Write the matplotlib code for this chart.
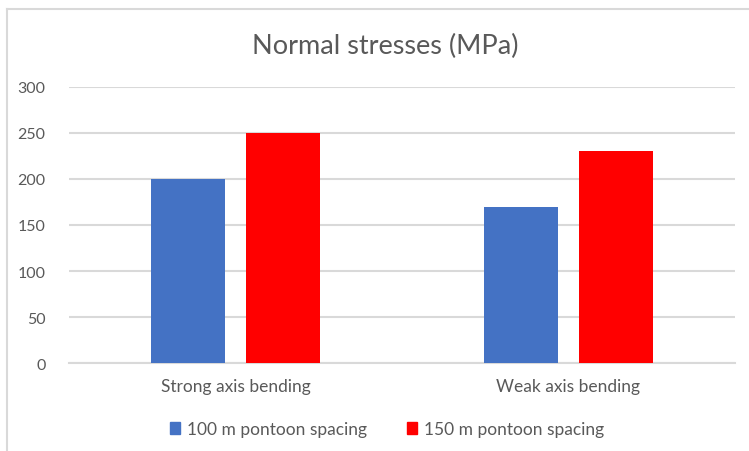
import matplotlib.pyplot as plt
from matplotlib.lines import Line2D
from matplotlib.patches import Patch
import numpy as np

# data
categories = ["Strong axis bending", "Weak axis bending"]
series_names = ["100 m pontoon spacing", "150 m pontoon spacing"]
vals_100 = [200, 170]
vals_150 = [250, 230]
colors = ["#4472C4", "#FF0000"]
yticks = [0, 50, 100, 150, 200, 250, 300]

plt.rcParams['font.family'] = ['Lato', 'DejaVu Sans']
txt = "#595959"

fig = plt.figure(figsize=(7.49, 4.52), dpi=100)
W, H = 749, 452
ax = fig.add_axes([69 / W, 1 - 364 / H, 666 / W, 276 / H])

x = np.arange(len(categories))
bw = 0.222
off = 0.143
ax.bar(x - off, vals_100, bw, color=colors[0], zorder=3)
ax.bar(x + off, vals_150, bw, color=colors[1], zorder=3)

ax.set_xlim(-0.5, 1.5)
ax.set_ylim(0, 300)
ax.set_yticks(yticks)
ax.set_xticks(x)
ax.set_xticklabels(categories, fontsize=12.5)
ax.yaxis.grid(True, color="#D9D9D9", lw=1.5, zorder=0)
for s in ["top", "right", "left"]:
    ax.spines[s].set_visible(False)
ax.spines["bottom"].set_color("#D9D9D9")
ax.spines["bottom"].set_linewidth(1.5)
ax.tick_params(axis="both", length=0, colors=txt)
ax.tick_params(axis="y", pad=17, labelsize=11.5)
ax.tick_params(axis="x", pad=11)

fig.text(385 / W, 1 - 46 / H, "Normal stresses (MPa)", ha="center", va="center",
         fontsize=19.5, color=txt)

handles = [Patch(color=c) for c in colors]
fig.legend(handles, series_names, loc="center", bbox_to_anchor=(387 / W, 1 - 430 / H),
           ncol=2, frameon=False, fontsize=12.5, labelcolor=txt,
           handlelength=0.6, handleheight=0.75, handletextpad=0.4, columnspacing=2.3)

# chart frame (cropped at right/bottom)
fig.add_artist(Line2D([7 / W, 7 / W], [0, 1 - 10 / H], color="#D9D9D9", lw=1.5,
                      transform=fig.transFigure))
fig.add_artist(Line2D([7 / W, 1], [1 - 10 / H, 1 - 10 / H], color="#D9D9D9", lw=1.5,
                      transform=fig.transFigure))

fig.savefig("out.png", dpi=100)
